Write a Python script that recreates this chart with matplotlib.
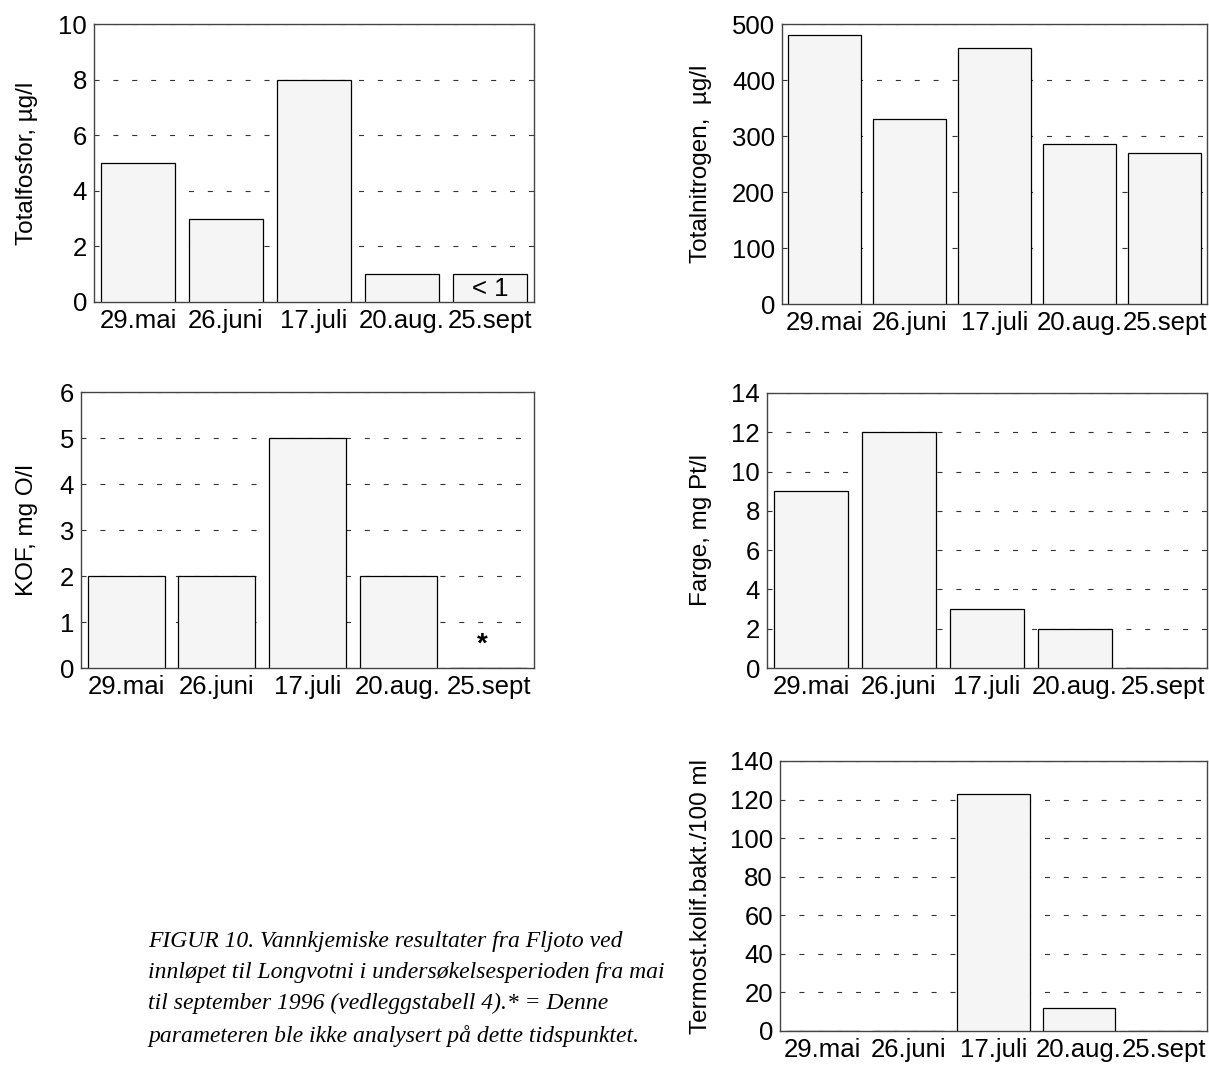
import numpy as np
import matplotlib
matplotlib.use("Agg")
import matplotlib.pyplot as plt

plt.rcParams['font.family'] = ['Liberation Sans', 'DejaVu Sans']
plt.rcParams['lines.scale_dashes'] = False

#Data
dates = ['29.mai', '26.juni', '17.juli', '20.aug.', '25.sept']
fosfor = [5, 3, 8, 1, 1]
nitrogen = [480, 330, 458, 285, 270]
kof = [2, 2, 5, 2, np.nan]
farge = [9, 12, 3, 2, 0]
kolif = [0, 0, 123, 12, 0]

caption = ("FIGUR 10. Vannkjemiske resultater fra Fljoto ved\n"
           "innløpet til Longvotni i undersøkelsesperioden fra mai\n"
           "til september 1996 (vedleggstabell 4).* = Denne\n"
           "parameteren ble ikke analysert på dette tidspunktet.")

W, H = 1209, 1065
fig = plt.figure(figsize=(W / 100, H / 100), dpi=100)

def panel(box, values, ylabel, ymax, ystep, label_right):
    left, top, right, bottom = box
    ax = fig.add_axes([left / W, 1 - bottom / H, (right - left) / W, (bottom - top) / H])
    x = np.arange(len(dates))
    ax.bar(x, np.nan_to_num(values), width=0.85, color='#f5f5f5',
           edgecolor='black', linewidth=0.9, zorder=3)
    ax.set_xlim(-0.5, 4.5)
    ax.set_ylim(0, ymax)
    ax.set_yticks(np.arange(0, ymax + ystep / 2, ystep))
    ax.set_xticks(x)
    ax.set_xticklabels(dates)
    ax.tick_params(length=0, labelsize=18.5, pad=5)
    ax.yaxis.grid(True, color='#333333', linewidth=0.8, linestyle=(0, (3.6, 10)), zorder=0)
    for s in ax.spines.values():
        s.set_color('#444444')
        s.set_linewidth(1.0)
    ax.set_ylabel(ylabel, fontsize=17.5)
    ax.yaxis.set_label_coords((label_right - left) / (right - left), 0.5)
    return ax

ax1 = panel((94, 24, 534, 302), fosfor, 'Totalfosfor, µg/l', 10, 2, 38)
ax1.text(4, 0.45, '< 1', ha='center', va='center', fontsize=18.5, zorder=4)

ax2 = panel((782, 24, 1207, 304), nitrogen, 'Totalnitrogen,  µg/l', 500, 100, 712)

ax3 = panel((81, 392, 534, 668), kof, 'KOF, mg O/l', 6, 1, 38)
ax3.text(3.93, 0.5, '*', ha='center', va='center', fontsize=20, fontweight='bold', zorder=4)

ax4 = panel((767, 393, 1207, 668), farge, 'Farge, mg Pt/l', 14, 2, 712)

ax5 = panel((780, 761, 1207, 1031), kolif, 'Termost.kolif.bakt./100 ml', 140, 20, 712)

fig.text(148 / W, 1 - 931 / H, caption, ha='left', va='top', fontsize=17,
         family='Liberation Serif', style='italic', linespacing=1.62)

fig.savefig('out.png', dpi=100)
